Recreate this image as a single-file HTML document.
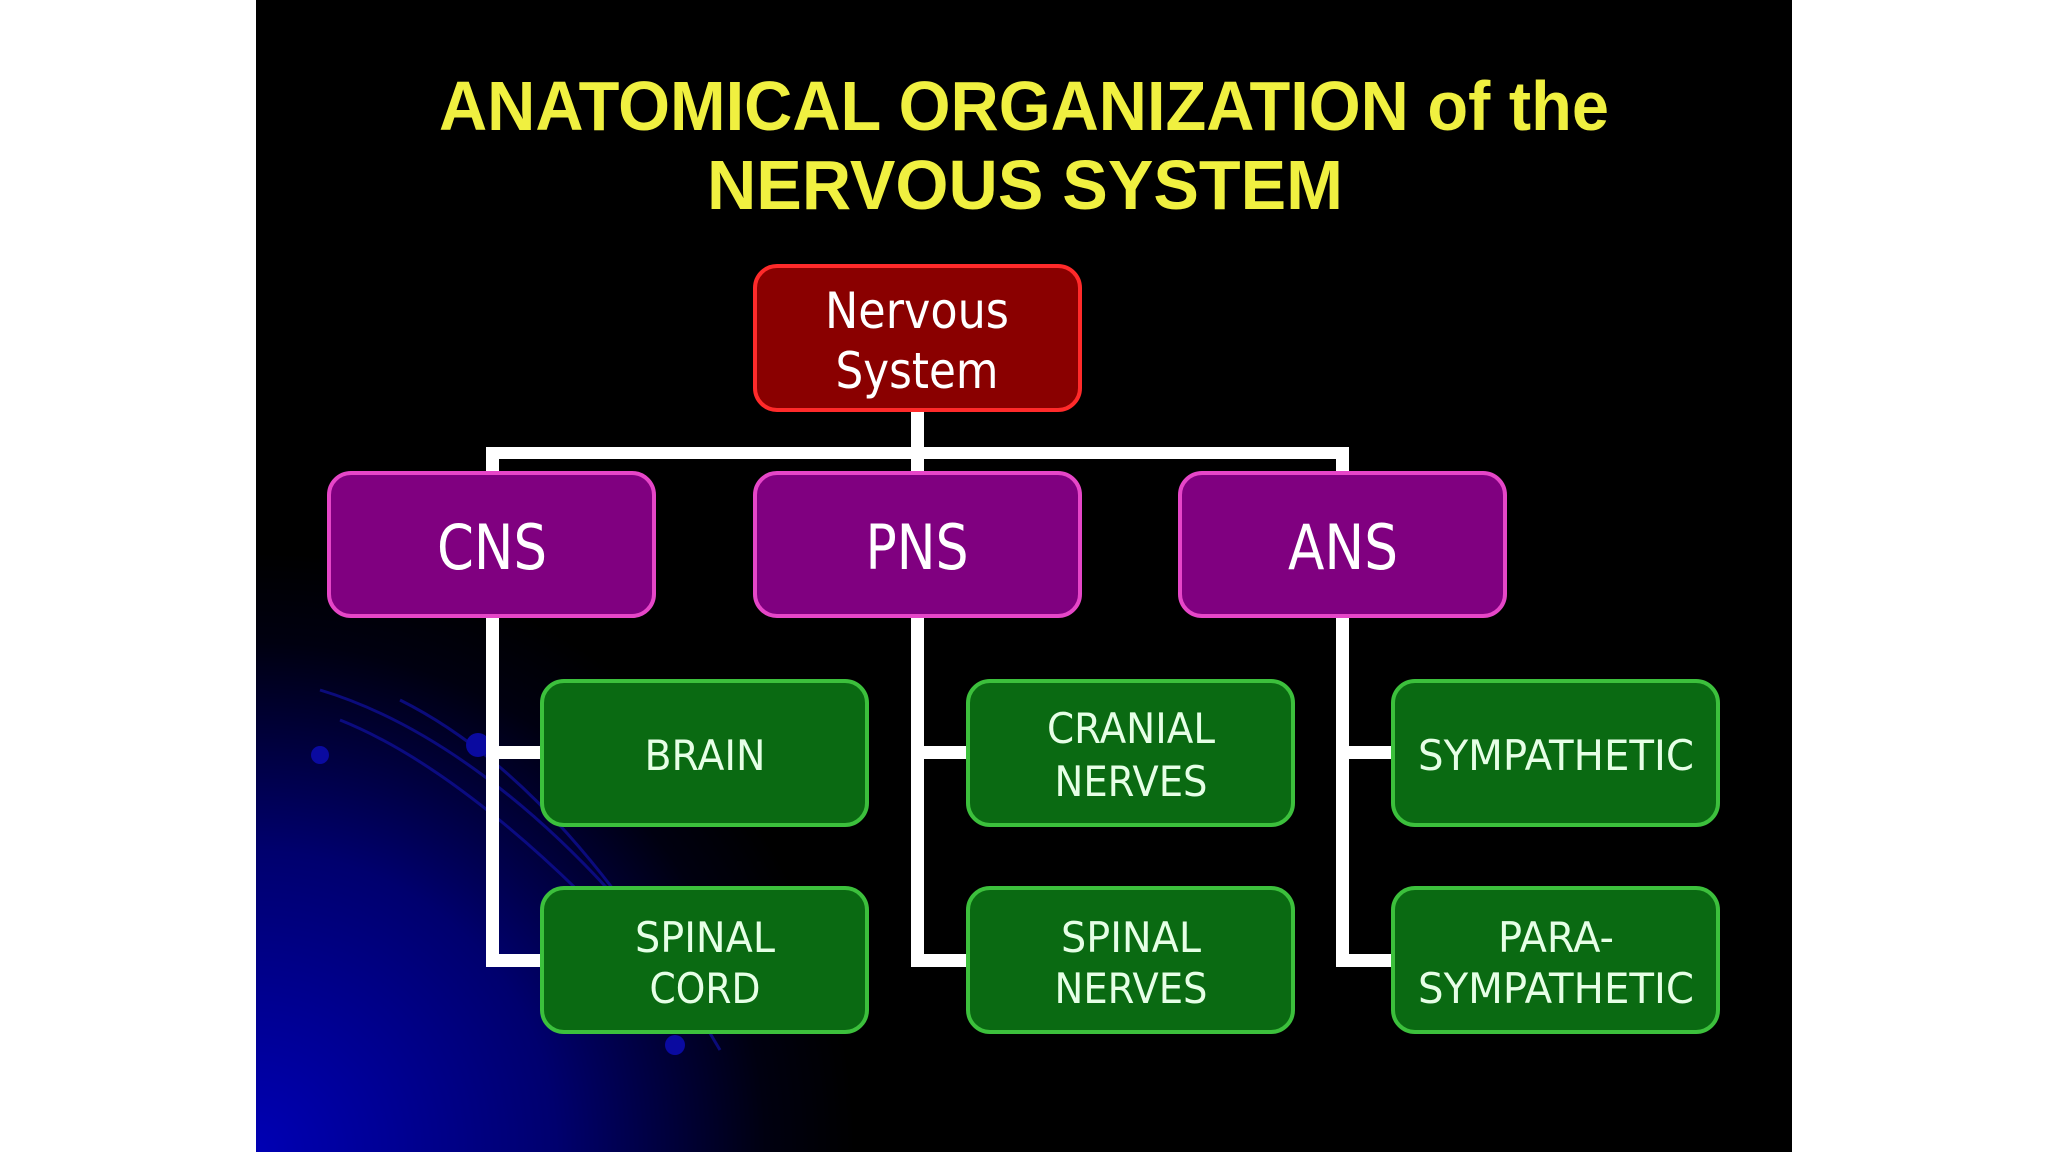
<!DOCTYPE html>
<html><head><style>
html,body{margin:0;padding:0;background:#fff;}
svg{display:block;}
</style></head><body>
<svg width="2048" height="1152" viewBox="0 0 2048 1152" xmlns="http://www.w3.org/2000/svg">
<defs>
<radialGradient id="bl" cx="256" cy="1152" r="600" gradientUnits="userSpaceOnUse">
<stop offset="0" stop-color="#0000b4"/>
<stop offset="0.5" stop-color="#00006e"/>
<stop offset="0.85" stop-color="#000010"/>
<stop offset="1" stop-color="#000000"/>
</radialGradient>
</defs>
<rect x="0" y="0" width="2048" height="1152" fill="#fff"/>
<rect x="256" y="0" width="1536" height="1152" fill="#000"/>
<rect x="256" y="0" width="1536" height="1152" fill="url(#bl)"/>
<g fill="none" stroke="#1010a0" stroke-width="3" opacity="0.7">
<path d="M320 690 C420 720 540 800 660 950"/>
<path d="M340 720 C440 760 560 860 680 1000"/>
<path d="M400 700 C520 760 620 880 720 1050"/>
</g>
<circle cx="320" cy="755" r="9" fill="#0a0aa0"/>
<circle cx="478" cy="745" r="12" fill="#0a0aa0"/>
<circle cx="675" cy="1045" r="10" fill="#0a0aa0"/>

<g font-family="'Liberation Sans', sans-serif" fill="#f0f040" font-size="70" font-weight="bold" text-anchor="middle">
<text x="1024" y="130" textLength="1170" lengthAdjust="spacingAndGlyphs">ANATOMICAL ORGANIZATION of the</text>
<text x="1025" y="209" textLength="636" lengthAdjust="spacingAndGlyphs">NERVOUS SYSTEM</text>
</g>

<g fill="#fff">
<rect x="911" y="410" width="13" height="65"/>
<rect x="486" y="447" width="863" height="12"/>
<rect x="486" y="447" width="13" height="28"/>
<rect x="1336" y="447" width="13" height="28"/>
<rect x="486" y="616" width="13" height="350"/>
<rect x="911" y="616" width="13" height="350"/>
<rect x="1336" y="616" width="13" height="350"/>
<rect x="486" y="746" width="58" height="13"/>
<rect x="486" y="954" width="58" height="13"/>
<rect x="911" y="746" width="58" height="13"/>
<rect x="911" y="954" width="58" height="13"/>
<rect x="1336" y="746" width="58" height="13"/>
<rect x="1336" y="954" width="58" height="13"/>
</g>

<rect x="755" y="266" width="325" height="144" rx="22" fill="#8a0000" stroke="#ff2a2a" stroke-width="4"/>
<g fill="#800080" stroke="#e646c8" stroke-width="4">
<rect x="329" y="473" width="325" height="143" rx="22"/>
<rect x="755" y="473" width="325" height="143" rx="22"/>
<rect x="1180" y="473" width="325" height="143" rx="22"/>
</g>
<g fill="#0a6a12" stroke="#3cc03c" stroke-width="4">
<rect x="542" y="681" width="325" height="144" rx="22"/>
<rect x="968" y="681" width="325" height="144" rx="22"/>
<rect x="1393" y="681" width="325" height="144" rx="22"/>
<rect x="542" y="888" width="325" height="144" rx="22"/>
<rect x="968" y="888" width="325" height="144" rx="22"/>
<rect x="1393" y="888" width="325" height="144" rx="22"/>
</g>

<g font-family="'DejaVu Sans', sans-serif" text-anchor="middle" fill="#ffffff">
<text x="917" y="328" font-size="50" textLength="184" lengthAdjust="spacingAndGlyphs">Nervous</text>
<text x="917" y="388" font-size="50" textLength="163" lengthAdjust="spacingAndGlyphs">System</text>
<text x="492" y="569" font-size="62" textLength="110" lengthAdjust="spacingAndGlyphs">CNS</text>
<text x="917" y="569" font-size="62" textLength="103" lengthAdjust="spacingAndGlyphs">PNS</text>
<text x="1343" y="569" font-size="62" textLength="110" lengthAdjust="spacingAndGlyphs">ANS</text>
</g>
<g font-family="'DejaVu Sans', sans-serif" text-anchor="middle" fill="#e6ffe6" font-size="42">
<text x="705" y="770" textLength="121" lengthAdjust="spacingAndGlyphs">BRAIN</text>
<text x="1131" y="743" textLength="168" lengthAdjust="spacingAndGlyphs">CRANIAL</text>
<text x="1131" y="796" textLength="153" lengthAdjust="spacingAndGlyphs">NERVES</text>
<text x="1556" y="770" textLength="276" lengthAdjust="spacingAndGlyphs">SYMPATHETIC</text>
<text x="705" y="952" textLength="140" lengthAdjust="spacingAndGlyphs">SPINAL</text>
<text x="705" y="1003" textLength="111" lengthAdjust="spacingAndGlyphs">CORD</text>
<text x="1131" y="952" textLength="140" lengthAdjust="spacingAndGlyphs">SPINAL</text>
<text x="1131" y="1003" textLength="153" lengthAdjust="spacingAndGlyphs">NERVES</text>
<text x="1556" y="952" textLength="116" lengthAdjust="spacingAndGlyphs">PARA-</text>
<text x="1556" y="1003" textLength="276" lengthAdjust="spacingAndGlyphs">SYMPATHETIC</text>
</g>
</svg>
</body></html>
